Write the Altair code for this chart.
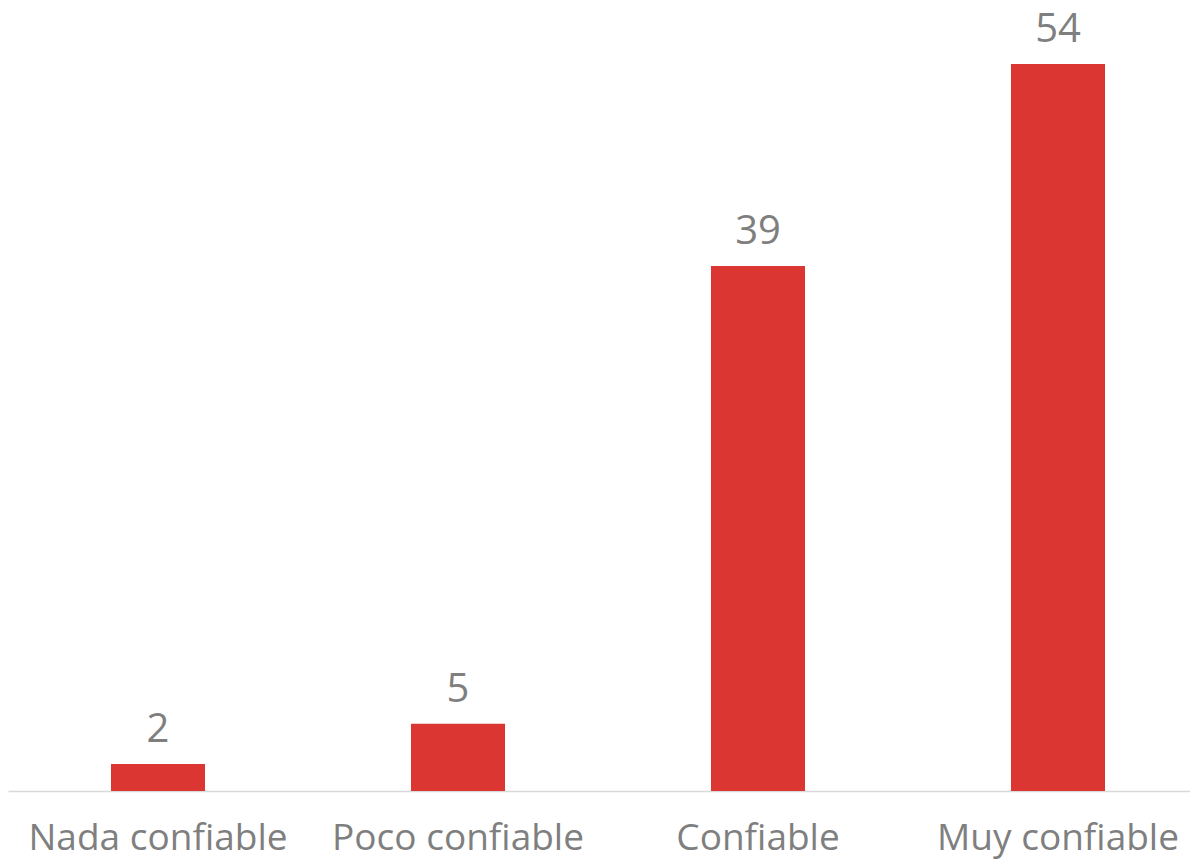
import altair as alt
import pandas as pd

categories = ["Nada confiable", "Poco confiable", "Confiable", "Muy confiable"]
values = [2, 5, 39, 54]

df = pd.DataFrame({"cat": categories, "val": values})

FONT = "Open Sans"
GRAY = "#7f7f7f"

x = alt.X("cat:N", sort=categories, title=None,
          scale=alt.Scale(paddingInner=0.68667, paddingOuter=0.31333, align=0.5479, round=False),
          axis=alt.Axis(labelAngle=0, labelFont=FONT, labelFontSize=37, labelColor=GRAY,
                        labelPadding=29, labelLimit=0, ticks=False,
                        domainColor="#d9d9d9", domainWidth=1.5))
y = alt.Y("val:Q", title=None, scale=alt.Scale(domain=[0, 58.16], nice=False),
          axis=None)

bars = alt.Chart(df).mark_bar(color="#dc3632").encode(x=x, y=y)
text = alt.Chart(df).mark_text(font=FONT, fontSize=40, color=GRAY, baseline="alphabetic", dy=-22).encode(
    x=alt.X("cat:N", sort=categories), y="val:Q", text="val:Q")

chart = (bars + text).properties(
    width=1182, height=783,
    autosize=alt.AutoSizeParams(type="none"),
    padding={"left": 0, "top": 0, "right": 0, "bottom": 69},
).configure_view(stroke=None)

chart.save("out.html", embed_options={"renderer": "svg", "actions": False})
